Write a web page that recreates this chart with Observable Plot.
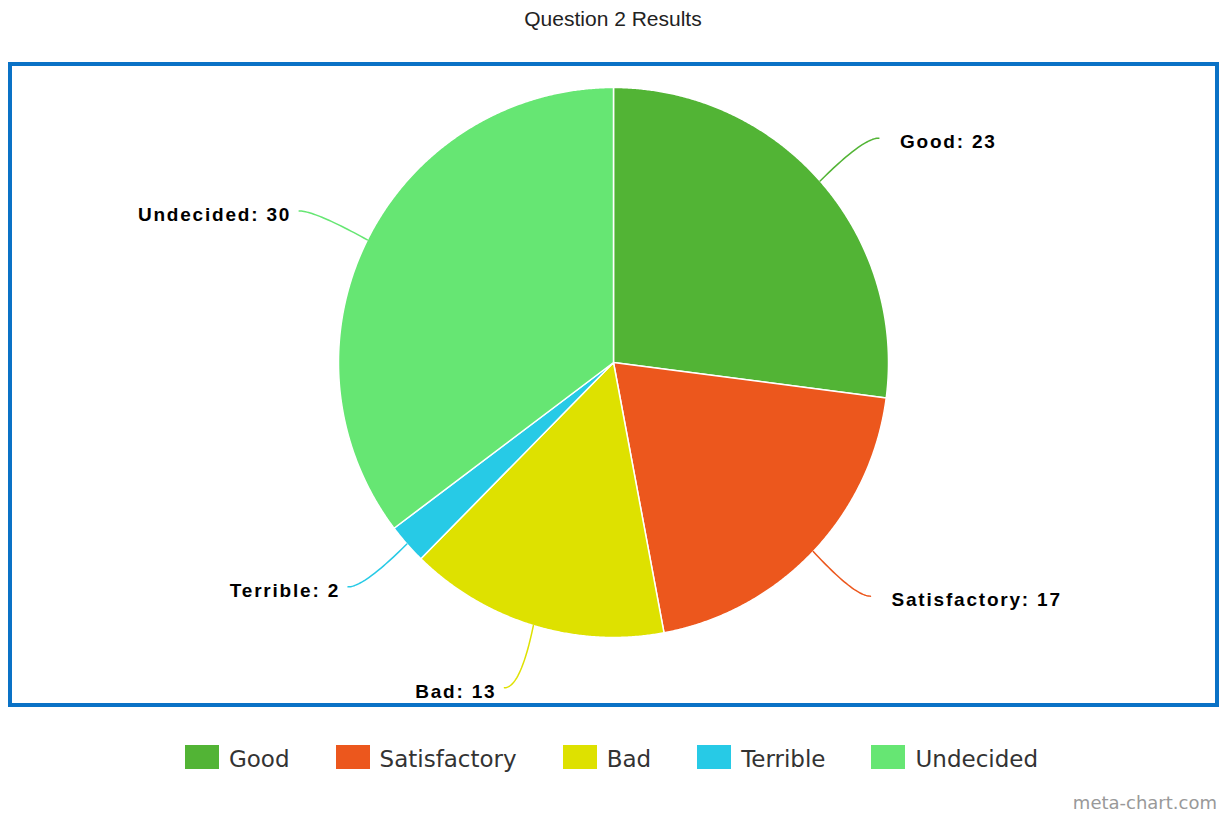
<!DOCTYPE html>
<html><head><meta charset="utf-8">
<script src="https://cdn.jsdelivr.net/npm/d3@7"></script>
<script src="https://cdn.jsdelivr.net/npm/@observablehq/plot@0.6"></script>
<style>
body{margin:0;background:#fff;width:1230px;height:814px;position:relative;overflow:hidden;}
#title{position:absolute;left:0;top:8px;width:1226px;text-align:center;font:21px "Liberation Sans",Arial,sans-serif;line-height:1;color:#222;}
#box{position:absolute;left:8px;top:62px;width:1203px;height:637px;border:4px solid #0a72c6;}
#box svg{display:block;}
#legend{position:absolute;left:0;top:745px;width:1223px;display:flex;justify-content:center;align-items:center;font:23px "DejaVu Sans",sans-serif;line-height:24px;color:#333;}
.item{display:flex;align-items:center;margin:0 23px;}
.sw{width:34px;height:24px;margin-right:10px;}
.lt{position:relative;top:2px;}
#credit{position:absolute;right:13px;top:794px;font:18px "DejaVu Sans",sans-serif;line-height:1;color:#999;}
</style></head><body>
<div id="title"></div>
<div id="box"></div>
<div id="legend"></div>
<div id="credit"></div>
<script>
const title = "Question 2 Results";
const credit = "meta-chart.com";
const categories = ["Good", "Satisfactory", "Bad", "Terrible", "Undecided"];
const values = [23, 17, 13, 2, 30];
const colors = ["#52b435", "#ec571d", "#dee100", "#27cae6", "#66e673"];

const W = 1203, H = 637, cx = 601, cy = 296, R = 275, LR = 340;
const data = categories.map((c, i) => ({cat: c, value: values[i]}));
const arcs = d3.pie().sort(null).value(d => d.value)(data);
const polar = (a, r) => [r * Math.sin(a), r * Math.cos(a)];

const slicePts = [];
const connPts = [];
const labels = [];
for (const a of arcs) {
  const c = a.data.cat;
  slicePts.push({cat: c, x: 0, y: 0});
  const n = Math.max(2, Math.ceil((a.endAngle - a.startAngle) / 0.005));
  for (let k = 0; k <= n; k++) {
    const t = a.startAngle + (a.endAngle - a.startAngle) * k / n;
    const [x, y] = polar(t, R);
    slicePts.push({cat: c, x, y});
  }
  slicePts.push({cat: c, x: 0, y: 0});
  const mid = (a.startAngle + a.endAngle) / 2;
  const right = Math.sin(mid) > 0;
  const s = right ? 1 : -1;
  const p0 = polar(mid, R), pb = polar(mid, LR);
  const p2 = [pb[0] + 10 * s, pb[1]];
  const p1 = [pb[0] - 6 * s, pb[1]];
  for (let k = 0; k <= 30; k++) {
    const t = k / 30, u = 1 - t;
    connPts.push({cat: c,
      x: u*u*p0[0] + 2*u*t*p1[0] + t*t*p2[0],
      y: u*u*p0[1] + 2*u*t*p1[1] + t*t*p2[1]});
  }
  labels.push({cat: c, text: `${c}: ${a.data.value}`, x: p2[0], y: p2[1], right});
}

const textOpts = {x: "x", y: "y", text: "text", dy: 4, fontWeight: "bold", fontSize: 19, fill: "black"};
const plot = Plot.plot({
  width: W, height: H, margin: 0,
  x: {domain: [-cx, W - cx], axis: null},
  y: {domain: [-(H - cy), cy], axis: null},
  color: {domain: categories, range: colors},
  style: {fontFamily: '"Liberation Sans", Arial, sans-serif', letterSpacing: "1.8px", background: "white", overflow: "visible"},
  marks: [
    Plot.line(slicePts, {x: "x", y: "y", z: "cat", fill: "cat", stroke: "white", strokeWidth: 1.5, strokeLinejoin: "round"}),
    Plot.line(connPts, {x: "x", y: "y", z: "cat", stroke: "cat", strokeWidth: 1.5}),
    Plot.text(labels.filter(d => d.right), {...textOpts, textAnchor: "start", dx: 21}),
    Plot.text(labels.filter(d => !d.right), {...textOpts, textAnchor: "end", dx: -8})
  ]
});
document.getElementById("box").appendChild(plot);
document.getElementById("title").textContent = title;
document.getElementById("credit").textContent = credit;
const color = plot.scale("color");
const legend = document.getElementById("legend");
for (const c of categories) {
  const it = document.createElement("div");
  it.className = "item";
  const sw = document.createElement("div");
  sw.className = "sw";
  sw.style.background = color.apply(c);
  const t = document.createElement("span");
  t.className = "lt";
  t.textContent = c;
  it.appendChild(sw); it.appendChild(t);
  legend.appendChild(it);
}
</script>
</body></html>
